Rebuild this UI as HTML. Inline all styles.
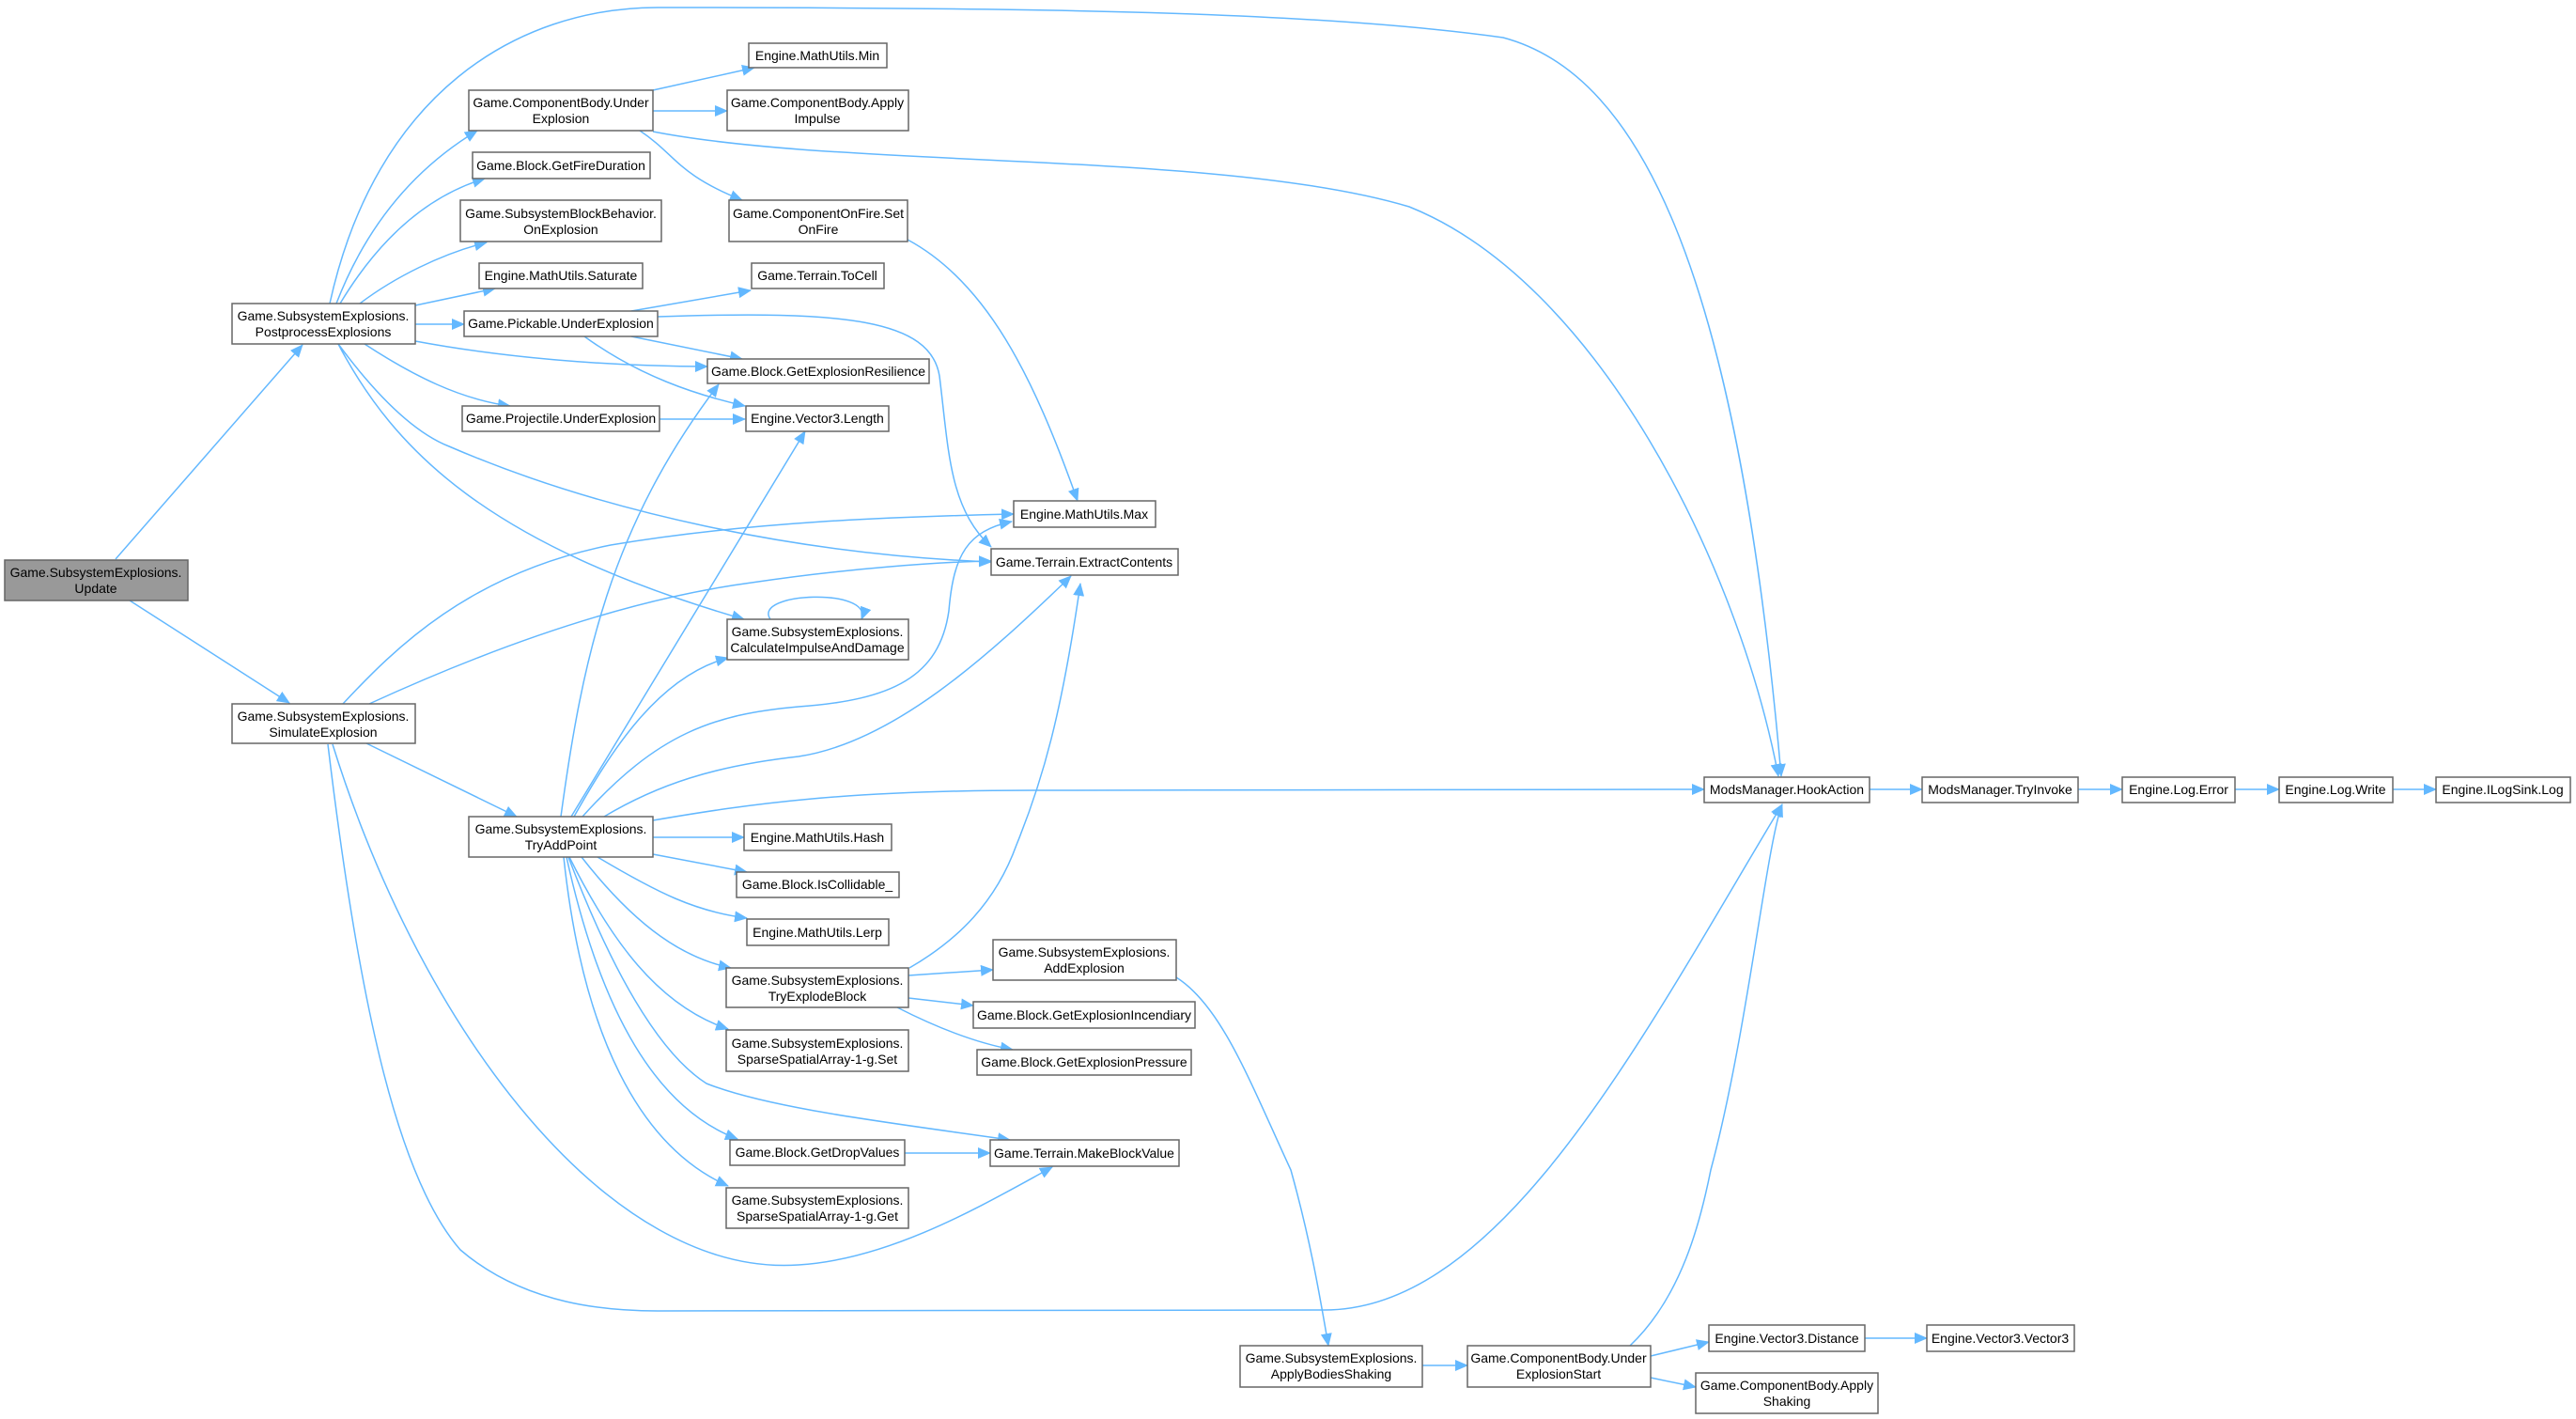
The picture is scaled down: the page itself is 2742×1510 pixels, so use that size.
<!DOCTYPE html>
<html><head><meta charset="utf-8"><style>
html,body{margin:0;padding:0;background:#fff;}
svg{display:block;}
text{font-family:"Liberation Sans",sans-serif;font-size:14px;fill:#000;}
.e{fill:none;stroke:#63b8ff;stroke-width:1.5;}
.n{fill:#fff;stroke:#666;stroke-width:1.5;}
</style></head><body>
<svg width="2742" height="1510" viewBox="0 0 2742 1510" xmlns="http://www.w3.org/2000/svg">
<defs><marker id="a" markerUnits="userSpaceOnUse" markerWidth="14" markerHeight="12" refX="13" refY="6" orient="auto"><path d="M0,0 L14,6 L0,12 z" fill="#63b8ff"/></marker></defs>
<g class="e" marker-end="url(#a)">
<path d="M123,595 L322,367"/>
<path d="M138,639 L308,748"/>
<path d="M351,323 C400,100 550,8 700,8 C1100,8 1400,12 1600,40 C1750,80 1850,300 1896,826"/>
<path d="M358,323 C390,240 440,180 508,139"/>
<path d="M362,323 C400,260 450,210 516,190"/>
<path d="M383,323 C420,295 470,270 518,258"/>
<path d="M442,325 L527,307"/>
<path d="M442,345 L494,345"/>
<path d="M442,363 C560,385 680,390 753,390"/>
<path d="M388,366 C440,400 490,425 543,432"/>
<path d="M360,366 C400,420 440,460 478,475 C640,545 850,590 1055,598"/>
<path d="M360,366 C420,480 520,580 792,659"/>
<path d="M695,96 L803,72"/>
<path d="M695,118 L774,118"/>
<path d="M681,139 C720,165 720,185 790,213"/>
<path d="M695,140 C900,180 1300,160 1500,220 C1700,300 1850,600 1893,826"/>
<path d="M966,255 C1050,300 1100,400 1147,533"/>
<path d="M672,331 L799,309"/>
<path d="M700,337 C900,330 990,340 1000,400 C1010,480 1010,540 1055,582"/>
<path d="M672,358 L790,382"/>
<path d="M622,358 C680,400 740,420 793,432"/>
<path d="M702,446 L793,446"/>
<path d="M365,749 C420,690 500,610 650,580 C800,555 950,550 1079,547"/>
<path d="M393,749 C500,700 650,640 800,620 C900,605 1000,598 1055,597"/>
<path d="M390,791 L550,869"/>
<path d="M354,792 C450,1100 650,1360 850,1346 C950,1340 1050,1280 1120,1242"/>
<path d="M349,792 C380,1050 420,1250 490,1330 C560,1390 650,1395 700,1395 L1410,1394 C1600,1394 1750,1100 1897,856"/>
<path d="M820,659 C800,630 930,625 917,659"/>
<path d="M597,869 C620,700 650,560 765,409"/>
<path d="M608,869 L857,459"/>
<path d="M611,869 C650,800 700,720 775,700"/>
<path d="M620,869 C700,780 760,760 850,752 C950,745 1000,720 1010,650 C1015,590 1030,565 1077,555"/>
<path d="M643,869 C700,835 760,815 850,805 C950,790 1050,700 1140,613"/>
<path d="M695,873 C800,855 900,841 1100,841 L1814,840"/>
<path d="M695,891 L792,891"/>
<path d="M695,909 L795,928"/>
<path d="M636,912 C700,950 740,970 795,977"/>
<path d="M619,912 C680,990 730,1020 778,1030"/>
<path d="M606,912 C650,1000 700,1070 775,1095"/>
<path d="M605,912 C650,1030 700,1120 752,1153 C820,1180 950,1195 1075,1213"/>
<path d="M603,912 C640,1080 700,1180 785,1212"/>
<path d="M600,912 C620,1100 680,1220 775,1262"/>
<path d="M968,1030 C1020,1000 1060,960 1082,899 C1110,830 1130,760 1150,621"/>
<path d="M967,1038 L1057,1032"/>
<path d="M967,1062 L1036,1070"/>
<path d="M955,1072 C1000,1095 1040,1110 1078,1117"/>
<path d="M963,1227 L1054,1227"/>
<path d="M1252,1040 C1300,1070 1330,1150 1374,1245 C1395,1320 1405,1380 1414,1432"/>
<path d="M1514,1453 L1562,1453"/>
<path d="M1735,1432 C1790,1380 1810,1300 1821,1245 C1860,1100 1880,900 1897,856"/>
<path d="M1757,1443 L1819,1428"/>
<path d="M1757,1466 L1805,1476"/>
<path d="M1985,1424 L2051,1424"/>
<path d="M1990,840 L2046,840"/>
<path d="M2212,840 L2259,840"/>
<path d="M2379,840 L2426,840"/>
<path d="M2547,840 L2593,840"/>
</g>
<g>
<rect class="n" x="5" y="596" width="195" height="43" style="fill:#999"/><text x="102" y="614" text-anchor="middle">Game.SubsystemExplosions.</text><text x="102" y="631" text-anchor="middle">Update</text>
<rect class="n" x="247" y="323" width="195" height="43"/><text x="344" y="341" text-anchor="middle">Game.SubsystemExplosions.</text><text x="344" y="358" text-anchor="middle">PostprocessExplosions</text>
<rect class="n" x="247" y="749" width="195" height="42"/><text x="344" y="767" text-anchor="middle">Game.SubsystemExplosions.</text><text x="344" y="784" text-anchor="middle">SimulateExplosion</text>
<rect class="n" x="499" y="96" width="196" height="43"/><text x="597" y="114" text-anchor="middle">Game.ComponentBody.Under</text><text x="597" y="131" text-anchor="middle">Explosion</text>
<rect class="n" x="797" y="46" width="147" height="26"/><text x="870" y="64" text-anchor="middle">Engine.MathUtils.Min</text>
<rect class="n" x="774" y="96" width="193" height="43"/><text x="870" y="114" text-anchor="middle">Game.ComponentBody.Apply</text><text x="870" y="131" text-anchor="middle">Impulse</text>
<rect class="n" x="503" y="162" width="189" height="28"/><text x="597" y="181" text-anchor="middle">Game.Block.GetFireDuration</text>
<rect class="n" x="490" y="213" width="214" height="44"/><text x="597" y="232" text-anchor="middle">Game.SubsystemBlockBehavior.</text><text x="597" y="249" text-anchor="middle">OnExplosion</text>
<rect class="n" x="776" y="213" width="190" height="44"/><text x="871" y="232" text-anchor="middle">Game.ComponentOnFire.Set</text><text x="871" y="249" text-anchor="middle">OnFire</text>
<rect class="n" x="510" y="280" width="174" height="27"/><text x="597" y="298" text-anchor="middle">Engine.MathUtils.Saturate</text>
<rect class="n" x="800" y="280" width="141" height="27"/><text x="870" y="298" text-anchor="middle">Game.Terrain.ToCell</text>
<rect class="n" x="494" y="331" width="206" height="27"/><text x="597" y="349" text-anchor="middle">Game.Pickable.UnderExplosion</text>
<rect class="n" x="753" y="382" width="236" height="26"/><text x="871" y="400" text-anchor="middle">Game.Block.GetExplosionResilience</text>
<rect class="n" x="492" y="432" width="210" height="27"/><text x="597" y="450" text-anchor="middle">Game.Projectile.UnderExplosion</text>
<rect class="n" x="794" y="432" width="152" height="27"/><text x="870" y="450" text-anchor="middle">Engine.Vector3.Length</text>
<rect class="n" x="1079" y="533" width="151" height="28"/><text x="1154" y="552" text-anchor="middle">Engine.MathUtils.Max</text>
<rect class="n" x="1055" y="584" width="199" height="28"/><text x="1154" y="603" text-anchor="middle">Game.Terrain.ExtractContents</text>
<rect class="n" x="774" y="659" width="193" height="43"/><text x="870" y="677" text-anchor="middle">Game.SubsystemExplosions.</text><text x="870" y="694" text-anchor="middle">CalculateImpulseAndDamage</text>
<rect class="n" x="499" y="869" width="196" height="43"/><text x="597" y="887" text-anchor="middle">Game.SubsystemExplosions.</text><text x="597" y="904" text-anchor="middle">TryAddPoint</text>
<rect class="n" x="792" y="877" width="157" height="28"/><text x="870" y="896" text-anchor="middle">Engine.MathUtils.Hash</text>
<rect class="n" x="784" y="928" width="173" height="27"/><text x="870" y="946" text-anchor="middle">Game.Block.IsCollidable_</text>
<rect class="n" x="795" y="978" width="151" height="28"/><text x="870" y="997" text-anchor="middle">Engine.MathUtils.Lerp</text>
<rect class="n" x="773" y="1030" width="194" height="42"/><text x="870" y="1048" text-anchor="middle">Game.SubsystemExplosions.</text><text x="870" y="1065" text-anchor="middle">TryExplodeBlock</text>
<rect class="n" x="773" y="1096" width="194" height="44"/><text x="870" y="1115" text-anchor="middle">Game.SubsystemExplosions.</text><text x="870" y="1132" text-anchor="middle">SparseSpatialArray-1-g.Set</text>
<rect class="n" x="777" y="1213" width="186" height="27"/><text x="870" y="1231" text-anchor="middle">Game.Block.GetDropValues</text>
<rect class="n" x="773" y="1264" width="194" height="43"/><text x="870" y="1282" text-anchor="middle">Game.SubsystemExplosions.</text><text x="870" y="1299" text-anchor="middle">SparseSpatialArray-1-g.Get</text>
<rect class="n" x="1057" y="1000" width="195" height="43"/><text x="1154" y="1018" text-anchor="middle">Game.SubsystemExplosions.</text><text x="1154" y="1035" text-anchor="middle">AddExplosion</text>
<rect class="n" x="1036" y="1066" width="236" height="28"/><text x="1154" y="1085" text-anchor="middle">Game.Block.GetExplosionIncendiary</text>
<rect class="n" x="1040" y="1117" width="228" height="27"/><text x="1154" y="1135" text-anchor="middle">Game.Block.GetExplosionPressure</text>
<rect class="n" x="1054" y="1213" width="201" height="28"/><text x="1154" y="1232" text-anchor="middle">Game.Terrain.MakeBlockValue</text>
<rect class="n" x="1814" y="827" width="176" height="27"/><text x="1902" y="845" text-anchor="middle">ModsManager.HookAction</text>
<rect class="n" x="2046" y="827" width="166" height="27"/><text x="2129" y="845" text-anchor="middle">ModsManager.TryInvoke</text>
<rect class="n" x="2259" y="827" width="120" height="27"/><text x="2319" y="845" text-anchor="middle">Engine.Log.Error</text>
<rect class="n" x="2426" y="827" width="121" height="27"/><text x="2486" y="845" text-anchor="middle">Engine.Log.Write</text>
<rect class="n" x="2593" y="827" width="143" height="27"/><text x="2664" y="845" text-anchor="middle">Engine.ILogSink.Log</text>
<rect class="n" x="1320" y="1432" width="194" height="44"/><text x="1417" y="1450" text-anchor="middle">Game.SubsystemExplosions.</text><text x="1417" y="1467" text-anchor="middle">ApplyBodiesShaking</text>
<rect class="n" x="1562" y="1432" width="195" height="44"/><text x="1659" y="1450" text-anchor="middle">Game.ComponentBody.Under</text><text x="1659" y="1467" text-anchor="middle">ExplosionStart</text>
<rect class="n" x="1819" y="1410" width="166" height="28"/><text x="1902" y="1429" text-anchor="middle">Engine.Vector3.Distance</text>
<rect class="n" x="2051" y="1410" width="157" height="28"/><text x="2129" y="1429" text-anchor="middle">Engine.Vector3.Vector3</text>
<rect class="n" x="1805" y="1461" width="194" height="43"/><text x="1902" y="1479" text-anchor="middle">Game.ComponentBody.Apply</text><text x="1902" y="1496" text-anchor="middle">Shaking</text>
</g>
</svg>
</body></html>
